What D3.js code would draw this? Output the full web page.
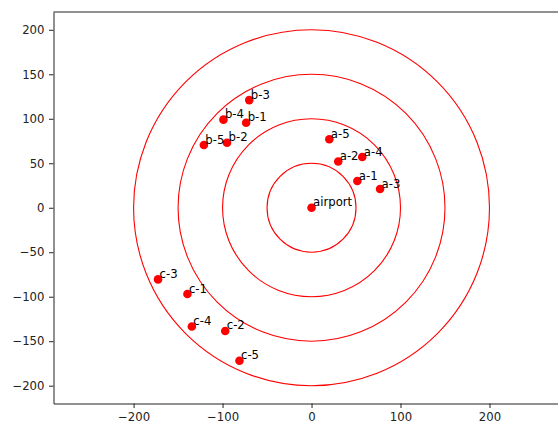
<!DOCTYPE html>
<html>
<head>
<meta charset="utf-8">
<script src="https://cdn.jsdelivr.net/npm/d3@7"></script>
<style>
  body { margin: 0; background: #fff; }
  svg { display: block; font-family: "DejaVu Sans", sans-serif; }
</style>
</head>
<body>
<div id="chart"></div>
<script>
// point names and positions
const names = ["airport", "a-1", "a-2", "a-3", "a-4", "a-5",
               "b-1", "b-2", "b-3", "b-4", "b-5",
               "c-1", "c-2", "c-3", "c-4", "c-5"];
const xs = [0, 51.5, 30, 77, 57, 20,
            -73.5, -95, -70, -99, -121,
            -139.5, -97, -172.5, -134.5, -81];
const ys = [0, 30, 52, 21, 57, 77,
            95.5, 73, 121, 99, 70.5,
            -97, -138.5, -80.5, -133.5, -172];
const radii = [50, 100, 150, 200];
const xTicks = [-200, -100, 0, 100, 200];
const yTicks = [-200, -150, -100, -50, 0, 50, 100, 150, 200];

const width = 558, height = 426;
const marginLeft = 53.5, marginTop = 12, plotH = 391.5;
const yDomain = [-220, 220];
const unit = plotH / (yDomain[1] - yDomain[0]); // equal aspect
const xDomain = [-290, 290];

const x = d3.scaleLinear().domain(xDomain).range([marginLeft, marginLeft + (xDomain[1] - xDomain[0]) * unit]);
const y = d3.scaleLinear().domain(yDomain).range([marginTop + plotH, marginTop]);

const svg = d3.select("#chart").append("svg")
  .attr("width", width)
  .attr("height", height);

const plot = svg.append("g");

// range rings around the airport
plot.selectAll("circle.ring").data(radii).join("circle")
  .attr("class", "ring")
  .attr("cx", x(0))
  .attr("cy", y(0))
  .attr("r", d => x(d) - x(0))
  .attr("fill", "none")
  .attr("stroke", "#ff0000")
  .attr("stroke-width", 1.1);

const pts = names.map((n, i) => ({ name: n, x: xs[i], y: ys[i] }));

plot.selectAll("circle.pt").data(pts).join("circle")
  .attr("class", "pt")
  .attr("cx", d => x(d.x))
  .attr("cy", d => y(d.y))
  .attr("r", 4.3)
  .attr("fill", "#ff0000");

plot.selectAll("text.lbl").data(pts).join("text")
  .attr("class", "lbl")
  .attr("x", d => x(d.x) + 1.5)
  .attr("y", d => y(d.y) - 1.5)
  .attr("font-size", "11.7px")
  .attr("fill", "#000")
  .text(d => d.name);

// axes
const fmt = d => d < 0 ? "\u2212" + Math.abs(d) : "" + d;

const gx = svg.append("g")
  .attr("transform", `translate(0,${marginTop + plotH})`)
  .call(d3.axisBottom(x).tickValues(xTicks).tickSize(4.5).tickPadding(4.5).tickFormat(fmt).tickSizeOuter(0));

const gy = svg.append("g")
  .attr("transform", `translate(${marginLeft},0)`)
  .call(d3.axisLeft(y).tickValues(yTicks).tickSize(4.5).tickPadding(4.5).tickFormat(fmt).tickSizeOuter(0));

[gx, gy].forEach(g => {
  g.selectAll("text").attr("font-size", "11.7px").attr("font-family", "DejaVu Sans, sans-serif").attr("fill", "#222");
  g.selectAll("line").attr("stroke", "#222").attr("stroke-width", 1);
  g.select(".domain").attr("stroke", "#222").attr("stroke-width", 1);
});

// top spine
svg.append("line")
  .attr("x1", x(xDomain[0])).attr("x2", x(xDomain[1]))
  .attr("y1", y(yDomain[1])).attr("y2", y(yDomain[1]))
  .attr("stroke", "#222").attr("stroke-width", 1);
</script>
</body>
</html>
